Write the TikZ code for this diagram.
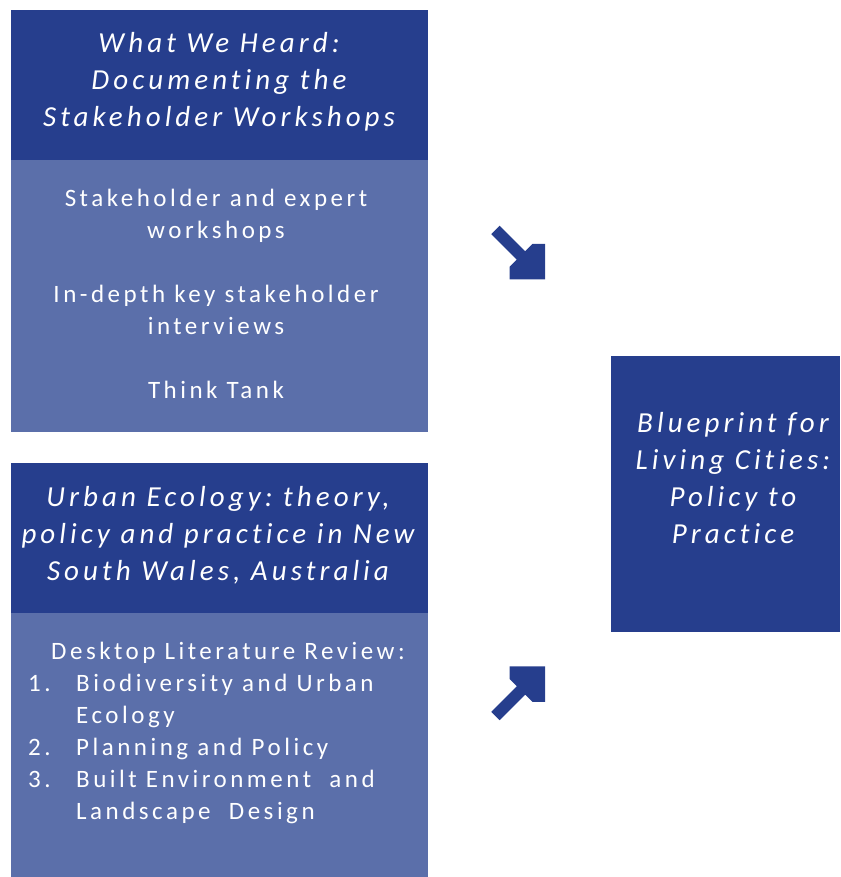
\documentclass[tikz,border=0pt]{standalone}
\usepackage{fontspec}
\setmainfont{Carlito}[LetterSpace=14,Ligatures=NoCommon,RawFeature=-liga]
\definecolor{dkblue}{RGB}{38,62,141}
\definecolor{ltblue}{RGB}{91,111,170}
\begin{document}
\frenchspacing
\begin{tikzpicture}[x=1pt,y=1pt,
  darkbox/.style={fill=dkblue,draw=none},
  lightbox/.style={fill=ltblue,draw=none},
  headtext/.style={text=white,align=center,inner sep=0pt,font=\fontsize{29}{37}\selectfont\itshape},
  bodytext/.style={text=white,inner sep=0pt,font=\fontsize{25}{32}\selectfont},
  blockarrow/.style={fill=dkblue,draw=none}]
\useasboundingbox (0,0) rectangle (840,877);
% boxes
\path[darkbox] (11,717) rectangle (428,867) coordinate (h1);
\path[lightbox] (11,445) rectangle (428,717) coordinate (b1);
\path[darkbox] (11,264) rectangle (428,414) coordinate (h2);
\path[lightbox] (11,0) rectangle (428,264) coordinate (b2);
\path[darkbox] (611,245) rectangle (840,521) coordinate (r1);
% texts
\node[headtext] (h1text) at (219,795) {What We Heard:\\Documenting the\\Stakeholder Workshops};
\node[bodytext,align=center] (b1text) at (216,583) {Stakeholder and expert\\workshops\\[32pt]In-depth key stakeholder\\interviews\\[32pt]Think Tank};
\node[headtext] (h2text) at (218,342) {Urban Ecology: theory,\\policy and practice in New\\South Wales, Australia};
\node[bodytext,align=left,anchor=north west] (b2text) at (28,235) {\hspace*{23pt}Desktop Literature Review:\\
\makebox[48pt][l]{1.}Biodiversity and Urban\\
\hspace*{48pt}Ecology\\
\makebox[48pt][l]{2.}Planning and Policy\\
\makebox[48pt][l]{3.}Built Environment\ \ and\\
\hspace*{48pt}Landscape\ \ Design};
\node[headtext] (r1text) at (733,399) {Blueprint for\\Living Cities:\\Policy to\\Practice};
% arrows
\coordinate (t1) at (545,597.5);
\path[blockarrow] (t1) -- ++(-35.5,0) -- ++(0,12.5) -- ++(7.35,7.35) -- ++(-25.6,25.6)
  -- ++(8.3,8.3) -- ++(25.6,-25.6) -- ++(7.35,7.35) -- ++(12.5,0) -- cycle;
\coordinate (t2) at (545,210.5);
\path[blockarrow] (t2) -- ++(-35.5,0) -- ++(0,-12.5) -- ++(7.35,-7.35) -- ++(-25.6,-25.6)
  -- ++(8.3,-8.3) -- ++(25.6,25.6) -- ++(7.35,-7.35) -- ++(12.5,0) -- cycle;
\end{tikzpicture}
\end{document}
